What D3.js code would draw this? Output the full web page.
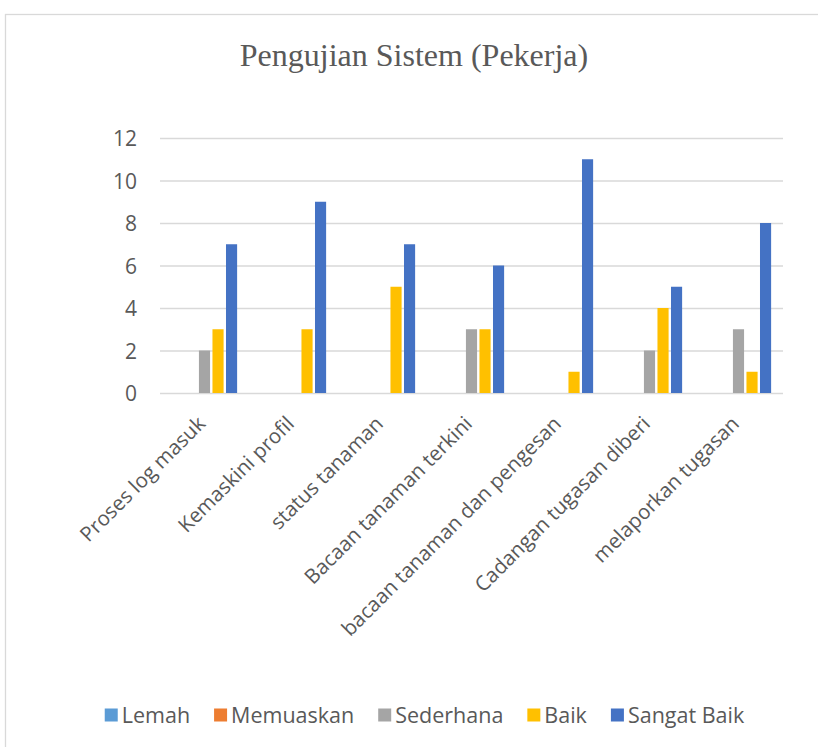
<!DOCTYPE html>
<html><head><meta charset="utf-8">
<script src="https://cdn.jsdelivr.net/npm/d3@7"></script>
<style>body{margin:0;background:#fff}svg{display:block}</style>
</head><body>
<svg id="c" width="818" height="747"></svg>
<script>
const categories = ["Proses log masuk","Kemaskini profil","status tanaman","Bacaan tanaman terkini","bacaan tanaman dan pengesan","Cadangan tugasan diberi","melaporkan tugasan"];
const seriesNames = ["Lemah","Memuaskan","Sederhana","Baik","Sangat Baik"];
const seriesColors = ["#5B9BD5","#ED7D31","#A5A5A5","#FFC000","#4472C4"];
const lemah = [0,0,0,0,0,0,0];
const memuaskan = [0,0,0,0,0,0,0];
const sederhana = [2,0,0,3,0,2,3];
const baik = [3,3,5,3,1,4,1];
const sangatBaik = [7,9,7,6,11,5,8];
const yTicks = [0,2,4,6,8,10,12];
const titleText = "Pengujian Sistem (Pekerja)";

const values = [lemah, memuaskan, sederhana, baik, sangatBaik];
const svg = d3.select("#c");
const font = "'Open Sans', sans-serif";
const txt = "#595959";

svg.append("rect").attr("x",5.5).attr("y",14.5).attr("width",840).attr("height",780)
  .attr("fill","#fff").attr("stroke","#d9d9d9").attr("stroke-width",1.3);

svg.append("text").attr("x",414).attr("y",66).attr("text-anchor","middle")
  .attr("font-family","'Liberation Serif', 'Times New Roman', serif").attr("font-size",32)
  .attr("fill",txt).text(titleText);

const x0 = d3.scaleBand().domain(categories).range([160,783]).paddingInner(0.24).paddingOuter(0.12);
const x1 = d3.scaleBand().domain(seriesNames).range([0,x0.bandwidth()]);
const y = d3.scaleLinear().domain([0,12]).range([393,138]);

const grid = svg.append("g");
grid.selectAll("line").data(yTicks).join("line")
  .attr("x1",160).attr("x2",783).attr("y1",d=>y(d)+0.5).attr("y2",d=>y(d)+0.5)
  .attr("stroke","#d9d9d9").attr("stroke-width",1.3);

const yAxis = d3.axisLeft(y).tickValues(yTicks).tickSize(0).tickPadding(0).tickFormat(d3.format("d"));
const ya = svg.append("g").attr("transform","translate(137,0)").call(yAxis);
ya.select(".domain").remove();
ya.selectAll("text").attr("font-family",font).attr("font-size",21).attr("fill",txt).attr("dy","0.36em");

const groups = svg.append("g").selectAll("g").data(categories).join("g")
  .attr("transform",d=>`translate(${x0(d)},0)`);
groups.selectAll("rect").data((d,i)=>seriesNames.map((s,j)=>({s, v: values[j][i], c: seriesColors[j]})))
  .join("rect")
  .attr("x",d=>x1(d.s)+1.2).attr("width",x1.bandwidth()-2.4)
  .attr("y",d=>y(d.v)).attr("height",d=>y(0)-y(d.v))
  .attr("fill",d=>d.c);

const xAxis = d3.axisBottom(x0).tickSize(0).tickPadding(0);
const xa = svg.append("g").attr("transform","translate(0,393)").call(xAxis);
xa.select(".domain").remove();
xa.selectAll("text").attr("font-family",font).attr("font-size",20.5).attr("fill",txt)
  .attr("text-anchor","end").attr("dy",null).attr("y",0)
  .attr("transform","translate(2,32) rotate(-45)");

// legend
const leg = svg.append("g");
const sq = 13, gapSq = 4, ly = 715;
let items = seriesNames.map((s,i)=>({s,c:seriesColors[i]}));
const fsL = 21.5;
const tmp = leg.append("text").attr("font-family",font).attr("font-size",fsL);
items.forEach(it=>{ tmp.text(it.s); it.w = tmp.node().getComputedTextLength(); });
tmp.remove();
const gapItem = 24;
const total = d3.sum(items,d=>sq+gapSq+d.w) + gapItem*(items.length-1);
let cx = 424.5 - total/2;
items.forEach(it=>{ it.x = cx; cx += sq+gapSq+it.w+gapItem; });
const li = leg.selectAll("g").data(items).join("g").attr("transform",d=>`translate(${d.x},${ly})`);
li.append("rect").attr("x",0).attr("y",-sq/2).attr("width",sq).attr("height",sq).attr("fill",d=>d.c);
li.append("text").attr("x",sq+gapSq).attr("y",0).attr("dy","0.36em")
  .attr("font-family",font).attr("font-size",fsL).attr("fill",txt).text(d=>d.s);
</script>
</body></html>
